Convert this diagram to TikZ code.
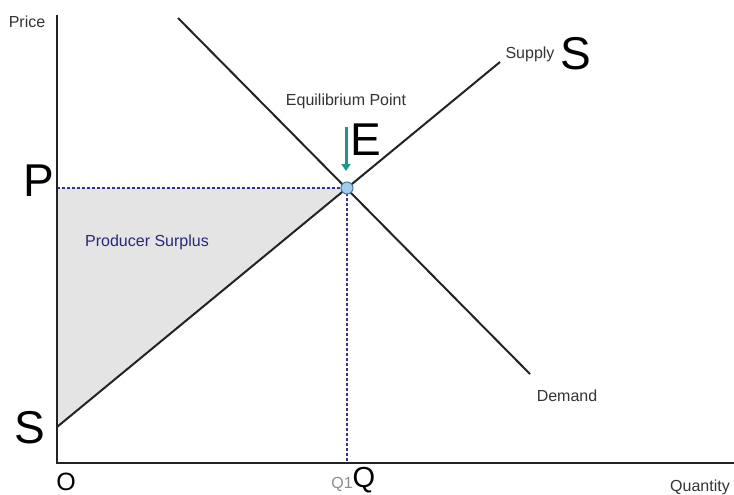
\documentclass[tikz,border=0pt]{standalone}
\usepackage{fontspec}
\setmainfont{Liberation Sans}
\usepackage{tikz}
\usetikzlibrary{arrows.meta}
\definecolor{axisink}{RGB}{35,35,35}
\definecolor{dotblue}{RGB}{50,50,150}
\definecolor{surplus}{RGB}{228,228,228}
\definecolor{labelblue}{RGB}{40,40,120}
\definecolor{arrowteal}{RGB}{30,150,140}
\definecolor{eqfill}{RGB}{160,205,235}
\definecolor{eqedge}{RGB}{70,120,170}

\begin{document}
\begin{tikzpicture}[x=1pt,y=-1pt,
  lab/.style={font=\fontsize{16}{18}\selectfont,inner sep=1pt,text=black!80},
  hand/.style={font=\fontsize{46}{50}\selectfont,inner sep=0pt},
  guide/.style={dotblue,line width=2.5pt,dash pattern=on 2.5pt off 2.5pt}]
 \useasboundingbox (0,0) rectangle (734,495);
 % key points
 \coordinate (orig) at (57,463);
 \coordinate (ytop) at (57,15);
 \coordinate (xend) at (734,463);
 \coordinate (eq) at (347,188);
 \coordinate (pstar) at (57,188);
 \coordinate (qstar) at (347,463);
 \coordinate (sstart) at (57,427);
 \coordinate (send) at (500,62);
 \coordinate (dstart) at (178,18);
 \coordinate (dend) at (530,374);
 % producer surplus
 \fill[surplus] (pstar)--(eq)--(sstart)--cycle;
 \draw[guide] (pstar)--(eq);
 \draw[guide] (eq)--(qstar);
 % axes
 \draw[axisink,line width=2.5pt] (ytop)--(orig)--(xend);
 % curves
 \draw[axisink,line width=2pt] (sstart)--(send);
 \draw[axisink,line width=2pt] (dstart)--(dend);
 \fill[eqfill,draw=eqedge,line width=1pt] (eq) circle (6);
 % labels
 \node[lab] (price) at (27,22) {Price};
 \node[lab] (qty) at (700,487) {Quantity};
 \node[lab] (supply) at (530,54) {Supply};
 \node[lab] (demand) at (567,396) {Demand};
 \node[lab] (eqlab) at (346,101) {Equilibrium Point};
 \node[lab,text=labelblue] (ps) at (147,242) {Producer Surplus};
 \node[lab,text=black!45] (qone) at (342,484) {Q1};
 \coordinate (atop) at (346,127);
 \coordinate (abot) at (346,171);
 \draw[arrowteal,line width=3pt,-{Triangle[width=9pt,length=7pt]}] (atop)--(abot);
 % handwritten marks
 \node[hand] (hp) at (39,181) {P};
 \node[hand] (he) at (366,140) {E};
 \node[hand] (hs) at (576,54) {S};
 \node[hand] (hs2) at (30,428) {S};
 \node[hand,font=\fontsize{25}{28}\selectfont] (ho) at (66,482) {O};
 \node[hand,font=\fontsize{29}{32}\selectfont] (hq) at (364,480) {Q};
\end{tikzpicture}
\end{document}
